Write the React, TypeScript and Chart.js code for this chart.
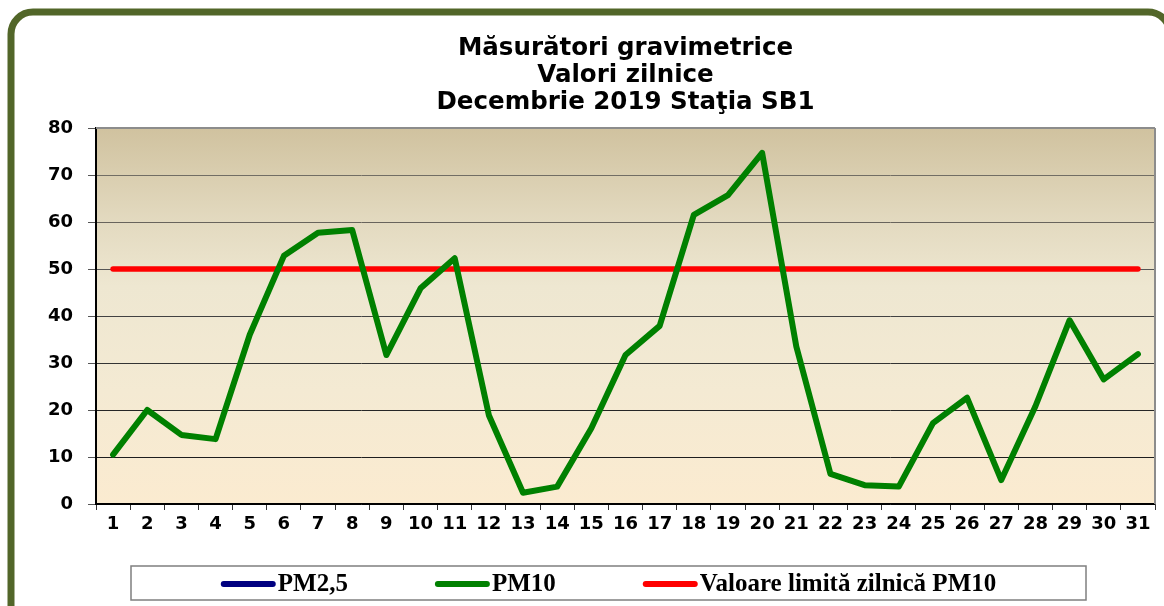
import React, { useEffect, useRef } from 'react';
import { Chart, registerables } from 'chart.js';

Chart.register(...registerables);

// ---- data ----
const days = ['1', '2', '3', '4', '5', '6', '7', '8', '9', '10', '11', '12', '13', '14', '15', '16',
  '17', '18', '19', '20', '21', '22', '23', '24', '25', '26', '27', '28', '29', '30', '31'];

const pm10 = [10.5, 20.0, 14.7, 13.8, 36.0, 52.8, 57.7, 58.3, 31.7, 45.9, 52.3, 18.9, 2.4, 3.7, 16.1, 31.7,
  37.9, 61.5, 65.7, 74.7, 33.5, 6.4, 4.0, 3.7, 17.2, 22.6, 5.1, 20.8, 39.1, 26.5, 31.9];

const pm25: (number | null)[] = [];

const dailyLimit = [50, 50, 50, 50, 50, 50, 50, 50, 50, 50, 50, 50, 50, 50, 50, 50,
  50, 50, 50, 50, 50, 50, 50, 50, 50, 50, 50, 50, 50, 50, 50];

const seriesNames = ['PM2,5', 'PM10', 'Valoare limită zilnică PM10'];
const titleLines = ['Măsurători gravimetrice', 'Valori zilnice', 'Decembrie 2019 Staţia SB1'];
const yMin = 0;
const yMax = 80;
const yStep = 10;

// ---- plugin: background, frame, custom legend ----
const gridColors: Record<number, string> = {
  80: '#8a8a8a', 70: '#716d64', 60: '#68645c', 50: '#555555', 40: '#424242', 30: '#333333', 20: '#262626', 10: '#1e1e1e', 0: '#000000',
};

const decorPlugin = {
  id: 'decor',
  beforeDraw(chart: any) {
    const { ctx, chartArea: a, width, height } = chart;
    ctx.save();
    ctx.fillStyle = '#ffffff';
    ctx.fillRect(0, 0, width, height);
    const g = ctx.createLinearGradient(0, a.top, 0, a.bottom);
    g.addColorStop(0, '#D0C29F');
    g.addColorStop(0.25, '#E3DAC0');
    g.addColorStop(0.42, '#EEE7D1');
    g.addColorStop(0.7, '#F4EAD3');
    g.addColorStop(1, '#FBEBD0');
    ctx.fillStyle = g;
    ctx.fillRect(a.left, a.top, a.right - a.left, a.bottom - a.top);

    // outer rounded frame
    const x0 = 11, y0 = 12, x1 = 1170, y1 = 650, r = 22;
    ctx.beginPath();
    ctx.moveTo(x0 + r, y0);
    ctx.lineTo(x1 - r, y0);
    ctx.arcTo(x1, y0, x1, y0 + r, r);
    ctx.lineTo(x1, y1 - r);
    ctx.arcTo(x1, y1, x1 - r, y1, r);
    ctx.lineTo(x0 + r, y1);
    ctx.arcTo(x0, y1, x0, y1 - r, r);
    ctx.lineTo(x0, y0 + r);
    ctx.arcTo(x0, y0, x0 + r, y0, r);
    ctx.closePath();
    ctx.lineWidth = 7;
    ctx.strokeStyle = '#526629';
    ctx.stroke();
    ctx.restore();
  },
  beforeDatasetsDraw(chart: any) {
    const { ctx, chartArea: a } = chart;
    ctx.save();
    ctx.strokeStyle = '#8c8c8c';
    ctx.lineWidth = 2;
    ctx.beginPath();
    ctx.moveTo(a.right, a.top);
    ctx.lineTo(a.right, a.bottom);
    ctx.moveTo(a.left, a.top);
    ctx.lineTo(a.right, a.top);
    ctx.stroke();
    ctx.restore();
  },
  afterDraw(chart: any) {
    const { ctx } = chart;
    const fx = 131, fy = 566, fw = 955, fh = 34;
    ctx.save();
    ctx.fillStyle = '#ffffff';
    ctx.fillRect(fx, fy, fw, fh);
    ctx.strokeStyle = '#7f7f7f';
    ctx.lineWidth = 1.5;
    ctx.strokeRect(fx, fy, fw, fh);

    ctx.font = "bold 25px 'Liberation Serif'";
    ctx.textBaseline = 'middle';
    ctx.textAlign = 'left';
    const symW = 55, gap = 2, spacing = 87;
    const items = chart.data.datasets.map((d: any) => ({
      text: d.label as string,
      color: d.borderColor as string,
      w: ctx.measureText(d.label).width,
    }));
    let total = 0;
    items.forEach((it: any, i: number) => {
      total += symW + gap + it.w + (i < items.length - 1 ? spacing : 0);
    });
    let x = fx + fw / 2 - total / 2;
    const cy = fy + fh / 2 + 1;
    items.forEach((it: any) => {
      ctx.strokeStyle = it.color;
      ctx.lineWidth = 6;
      ctx.lineCap = 'round';
      ctx.beginPath();
      ctx.moveTo(x + 3, cy);
      ctx.lineTo(x + symW - 3, cy);
      ctx.stroke();
      ctx.fillStyle = '#000000';
      ctx.fillText(it.text, x + symW + gap, cy + 1);
      x += symW + gap + it.w + spacing;
    });
    ctx.restore();
  },
};

export default function App() {
  const ref = useRef<HTMLCanvasElement | null>(null);

  useEffect(() => {
    if (!ref.current) return;
    const tickFont = { family: "'DejaVu Sans'", size: 18, weight: 'bold' as const };
    const chart = new Chart(ref.current, {
      type: 'line',
      data: {
        labels: days,
        datasets: [
          {
            label: seriesNames[0],
            data: pm25,
            borderColor: '#000080',
            backgroundColor: '#000080',
            borderWidth: 6,
            pointRadius: 0,
          },
          {
            label: seriesNames[1],
            data: pm10,
            borderColor: '#008000',
            backgroundColor: '#008000',
            borderWidth: 6,
            pointRadius: 0,
            tension: 0,
            borderJoinStyle: 'round',
            borderCapStyle: 'round',
          },
          {
            label: seriesNames[2],
            data: dailyLimit,
            borderColor: '#FF0000',
            backgroundColor: '#FF0000',
            borderWidth: 5.5,
            pointRadius: 0,
            borderCapStyle: 'round',
          },
        ],
      },
      options: {
        animation: false,
        responsive: true,
        maintainAspectRatio: false,
        events: [],
        layout: { padding: { left: 0, right: 9, top: 0, bottom: 62 } },
        plugins: {
          legend: { display: false },
          tooltip: { enabled: false },
          title: {
            display: true,
            text: titleLines,
            fullSize: false,
            color: '#000000',
            font: { family: "'DejaVu Sans'", size: 24.5, weight: 'bold', lineHeight: 1.1 },
            padding: { top: 35.5, bottom: 11.65 },
          },
        },
        scales: {
          x: {
            type: 'category',
            offset: true,
            grid: {
              offset: true,
              drawOnChartArea: false,
              drawTicks: true,
              tickLength: 6,
              color: '#333333',
              tickColor: '#333333',
            },
            border: { display: true, color: '#000000', width: 1.5 },
            ticks: {
              font: tickFont,
              color: '#000000',
              padding: 4,
              maxRotation: 0,
              autoSkip: false,
            },
            afterFit: (s: any) => { s.height = 40; },
          },
          y: {
            min: yMin,
            max: yMax,
            ticks: {
              stepSize: yStep,
              font: tickFont,
              color: '#000000',
              padding: 15,
            },
            grid: {
              color: (c: any) => gridColors[c.tick?.value] ?? '#333333',
              lineWidth: 1,
              tickLength: 8,
              tickColor: '#555555',
            },
            border: { display: true, color: '#000000', width: 2 },
            afterFit: (s: any) => { s.width = 96; },
          },
        },
      } as any,
      plugins: [decorPlugin],
    });
    return () => chart.destroy();
  }, []);

  return (
    <div style={{ position: 'absolute', left: 0, top: 0, width: 1164, height: 606 }}>
      <canvas ref={ref} />
    </div>
  );
}
